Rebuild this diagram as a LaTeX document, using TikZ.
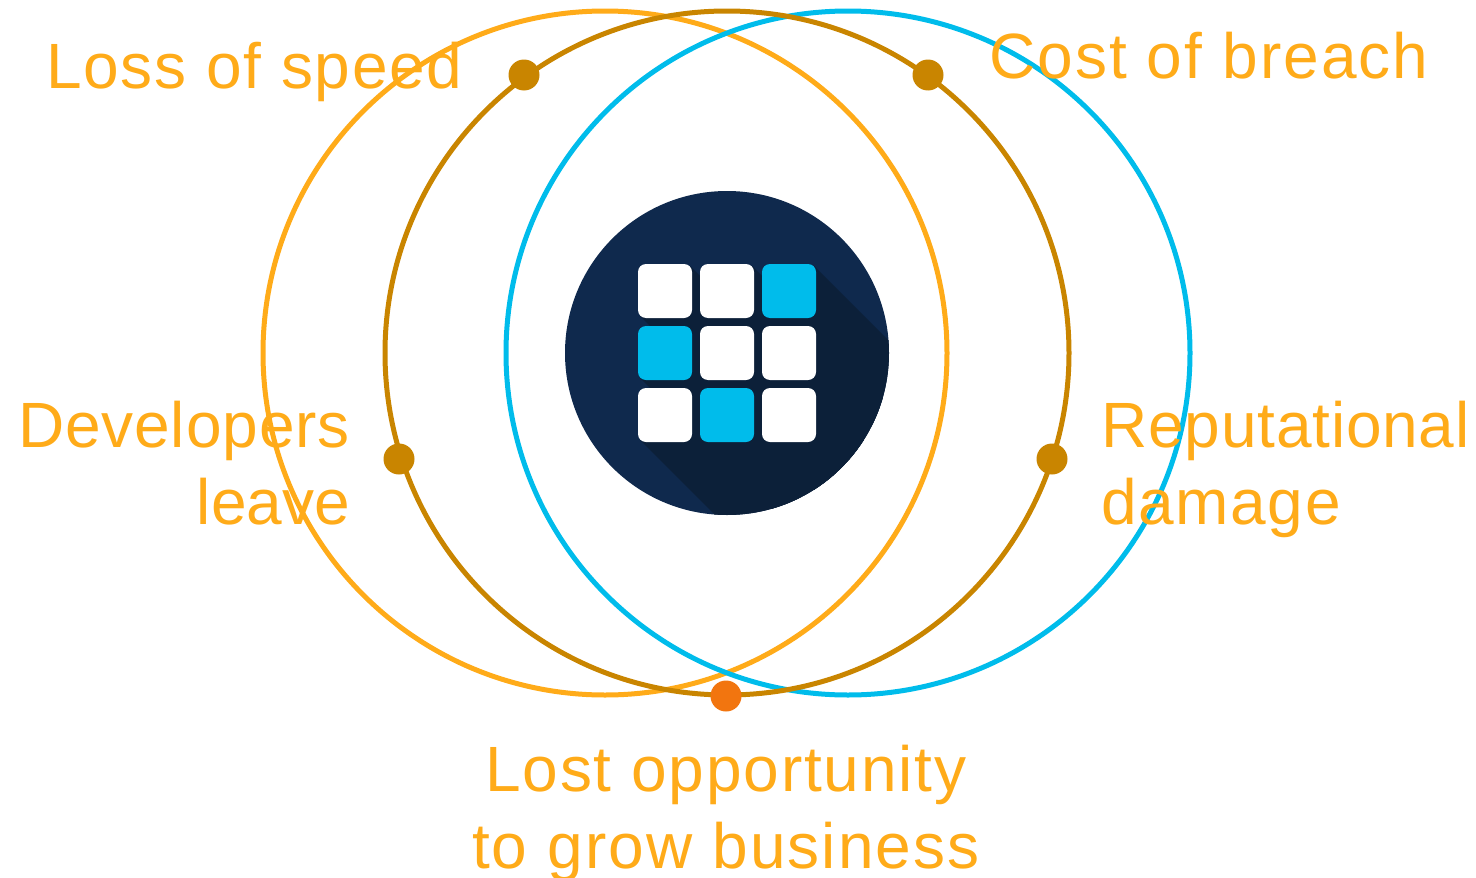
\documentclass[tikz,border=0pt]{standalone}
\usepackage{fontspec}
\setmainfont{Liberation Sans}
\usepackage{xcolor}
\definecolor{ringorange}{HTML}{FFAB19}
\definecolor{ringbrown}{HTML}{C98500}
\definecolor{ringblue}{HTML}{00BCEB}
\definecolor{dotorange}{HTML}{F2750F}
\definecolor{navy}{HTML}{0F294D}
\definecolor{navyshade}{HTML}{0C2039}
\newcommand{\tracked}[2]{{\addfontfeature{LetterSpace=#1}#2}}
\begin{document}
\begin{tikzpicture}[x=1pt,y=-1pt]
     \tikzstyle{ring}=[draw,line width=5pt,fill=none]
     \tikzstyle{vertex}=[circle,minimum size=31pt,inner sep=0pt,fill=ringbrown]
     \tikzstyle{tile}=[rounded corners=8pt,fill=white]
     \tikzstyle{label}=[inner sep=0pt,text=ringorange,font=\fontsize{64}{77}\selectfont]
     \useasboundingbox (0,0) rectangle (1476,878);

     \draw[ring,ringorange] (605,353) circle (342);
     \draw[ring,ringblue] (848,353) circle (342);
     \draw[ring,ringbrown] (727,353) circle (342);

     \fill[navy] (727,353) circle (162);
     % long shadow of the tiles
     \begin{scope}
       \clip (727,353) circle (162);
       \foreach \x in {640,702,764}
         \foreach \y in {266,328,390}
           \fill[navyshade] (\x,\y+50) -- (\x+50,\y) -- (\x+250,\y+200) -- (\x+200,\y+250) -- cycle;
     \end{scope}

     \fill[tile] (638,264) rectangle +(54,54);
     \fill[tile] (700,264) rectangle +(54,54);
     \fill[tile,ringblue] (762,264) rectangle +(54,54);
     \fill[tile,ringblue] (638,326) rectangle +(54,54);
     \fill[tile] (700,326) rectangle +(54,54);
     \fill[tile] (762,326) rectangle +(54,54);
     \fill[tile] (638,388) rectangle +(54,54);
     \fill[tile,ringblue] (700,388) rectangle +(54,54);
     \fill[tile] (762,388) rectangle +(54,54);

     \node[vertex] (v0) at (524,75) {};
     \node[vertex] (v1) at (928,75) {};
     \node[vertex] (v2) at (399,459) {};
     \node[vertex] (v3) at (1052,459) {};
     \node[vertex,fill=dotorange] (v4) at (726,696) {};

     \node[label,anchor=base west] (speed) at (46,88) {\tracked{2.8}{Loss of speed}};
     \node[label,anchor=base west] (breach) at (989,78) {\tracked{3.3}{Cost of breach}};
     \node[label,anchor=base east,align=right] (leave) at (350,524) {\tracked{1.4}{Developers}\\\tracked{0}{leave}};
     \node[label,anchor=base west,align=left] (damage) at (1101,524) {\tracked{1.3}{Reputational}\\\tracked{2.6}{damage}};
     \node[label,anchor=base,align=center] (business) at (726,868) {\tracked{2.9}{Lost opportunity}\\\tracked{3.3}{to grow business}};
\end{tikzpicture}
\end{document}
